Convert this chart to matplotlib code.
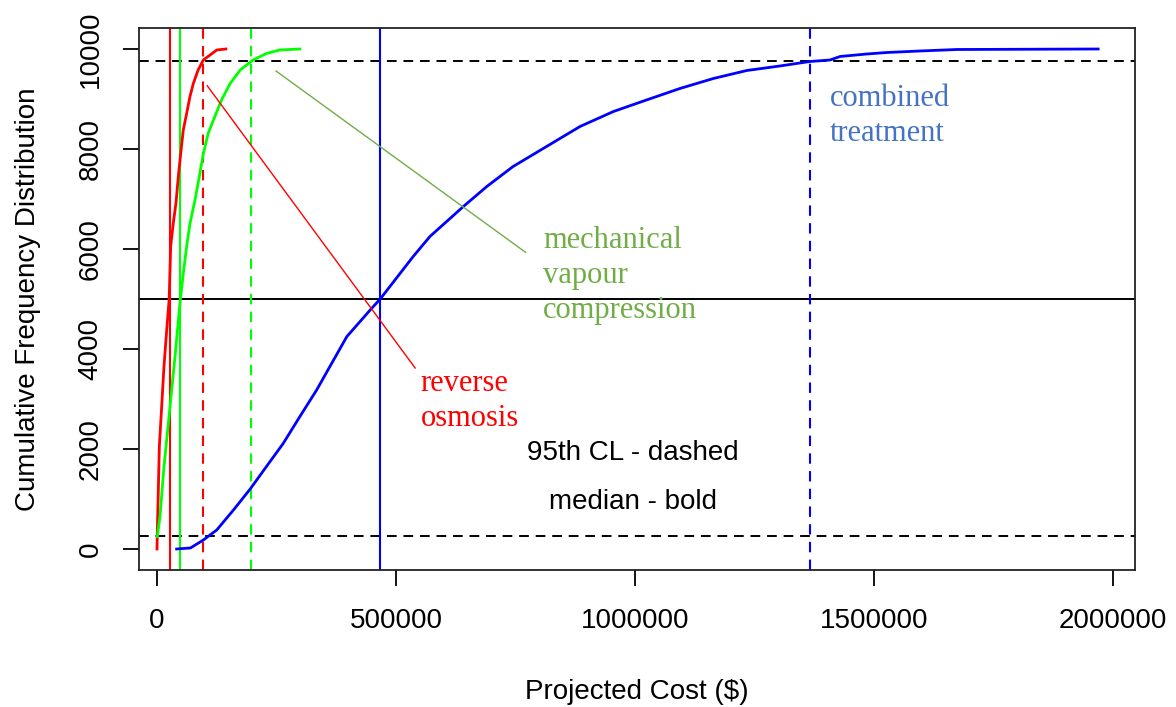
import matplotlib
matplotlib.use("Agg")
import matplotlib.pyplot as plt

# cumulative frequency curves (cost in $, cumulative count out of 10000 runs)
ro_cost = [0, 700, 2800, 4900, 9800, 14600, 20300, 25500, 27000, 28600, 34000,
           39700, 44600, 49600, 55000, 62000, 69000, 76000, 86000, 97000, 125000, 144000]
ro_count = [0, 380, 1180, 2050, 2850, 3650, 4380, 5000, 5520, 6050, 6510,
            6920, 7450, 7910, 8380, 8710, 9050, 9310, 9580, 9780, 9980, 10000]

mvc_cost = [700, 6300, 14600, 23700, 30700, 37700, 46700, 49600, 55000, 62000, 69000,
            79500, 88500, 97000, 107000, 121000, 135000, 153000, 174000, 201000,
            229000, 257000, 299000]
mvc_count = [250, 650, 1650, 2510, 3180, 3850, 4780, 5050, 5510, 6050, 6510,
             6980, 7450, 7910, 8310, 8650, 8980, 9310, 9580, 9780,
             9910, 9980, 10000]

ct_cost = [41000, 70000, 97000, 125000, 160000, 195000, 229000, 264000, 299000, 334000,
           397000, 446000, 467000, 536000, 571000, 641000, 690000, 745000, 815000,
           885000, 955000, 1024000, 1094000, 1164000, 1234000, 1303000, 1366000,
           1408000, 1429000, 1485000, 1527000, 1596000, 1673000, 1969000]
ct_count = [0, 20, 180, 380, 780, 1200, 1650, 2110, 2650, 3180,
            4246, 4780, 5000, 5850, 6250, 6850, 7250, 7650, 8050,
            8450, 8750, 8980, 9210, 9410, 9570, 9660, 9750,
            9780, 9850, 9900, 9930, 9960, 9990, 10000]

# medians (solid) and 97.5th percentiles (dashed)
medians = [26500, 48000, 466500]
upper_cl = [96000, 196000, 1366000]
series_colors = ["#ff0000", "#00ff00", "#0000ff"]

conf_levels = [250, 9750]
median_level = 5000

xticks = [0, 500000, 1000000, 1500000, 2000000]
yticks = [0, 2000, 4000, 6000, 8000, 10000]

plt.rcParams["font.family"] = ["Liberation Sans", "DejaVu Sans"]

fig = plt.figure(figsize=(11.76, 7.07), dpi=100)
ax = fig.add_axes([0.1182, 0.1938, 0.8469, 0.7666])

for xs, ys, c in [(ro_cost, ro_count, series_colors[0]),
                  (mvc_cost, mvc_count, series_colors[1]),
                  (ct_cost, ct_count, series_colors[2])]:
    ax.plot(xs, ys, color=c, lw=2.0, zorder=3)

for lvl in conf_levels:
    ax.axhline(lvl, color="black", lw=1.4, dashes=(5, 3.5), zorder=2)
ax.axhline(median_level, color="black", lw=1.4, zorder=2)

for m, q, c in zip(medians, upper_cl, series_colors):
    ax.axvline(m, color=c, lw=1.5, zorder=2)
    ax.axvline(q, color=c, lw=1.5, dashes=(5, 3.5), zorder=2)

# pointer lines from the labels to their curves
ax.plot([105000, 540000], [9266, 3620], color="#ff0000", lw=1.0, zorder=4)
ax.plot([249000, 771000], [9560, 5934], color="#70ad47", lw=1.0, zorder=4)

serif = ["Liberation Serif", "DejaVu Serif"]


def label_block(x, y0, lines, color, step=705):
    # one baseline per line so the spacing stays even
    for i, line in enumerate(lines):
        ax.text(x, y0 - i * step, line, color=color, fontsize=22, family=serif,
                ha="left", va="baseline", zorder=5)


label_block(552000, 3166, ["reverse", "osmosis"], "#ff0000")
label_block(808000, 6026, ["mechanical", "vapour", "compression"], "#70ad47")
label_block(1408000, 8860, ["combined", "treatment"], "#4472c4")

ax.text(996000, 1920, "95th CL - dashed", fontsize=20, ha="center", va="center")
ax.text(996000, 940, "median - bold", fontsize=20, ha="center", va="center")

ax.set_xlim(-37650, 2046000)
ax.set_ylim(-420, 10420)
ax.set_xticks(xticks)
ax.set_xticklabels([str(v) for v in xticks])
ax.set_yticks(yticks)
ax.set_yticklabels([str(v) for v in yticks])
ax.tick_params(axis="both", length=11.5, width=1.3, labelsize=20)
ax.tick_params(axis="x", pad=16)
ax.tick_params(axis="y", pad=14, labelrotation=90)
for lab in ax.get_yticklabels():
    lab.set_va("center")

for s in ax.spines.values():
    s.set_linewidth(1.3)
    s.set_color("#222222")

ax.set_xlabel("Projected Cost ($)", fontsize=20, labelpad=32)
ax.set_ylabel("Cumulative Frequency Distribution", fontsize=20, labelpad=26)

fig.savefig("out.png", dpi=100)
